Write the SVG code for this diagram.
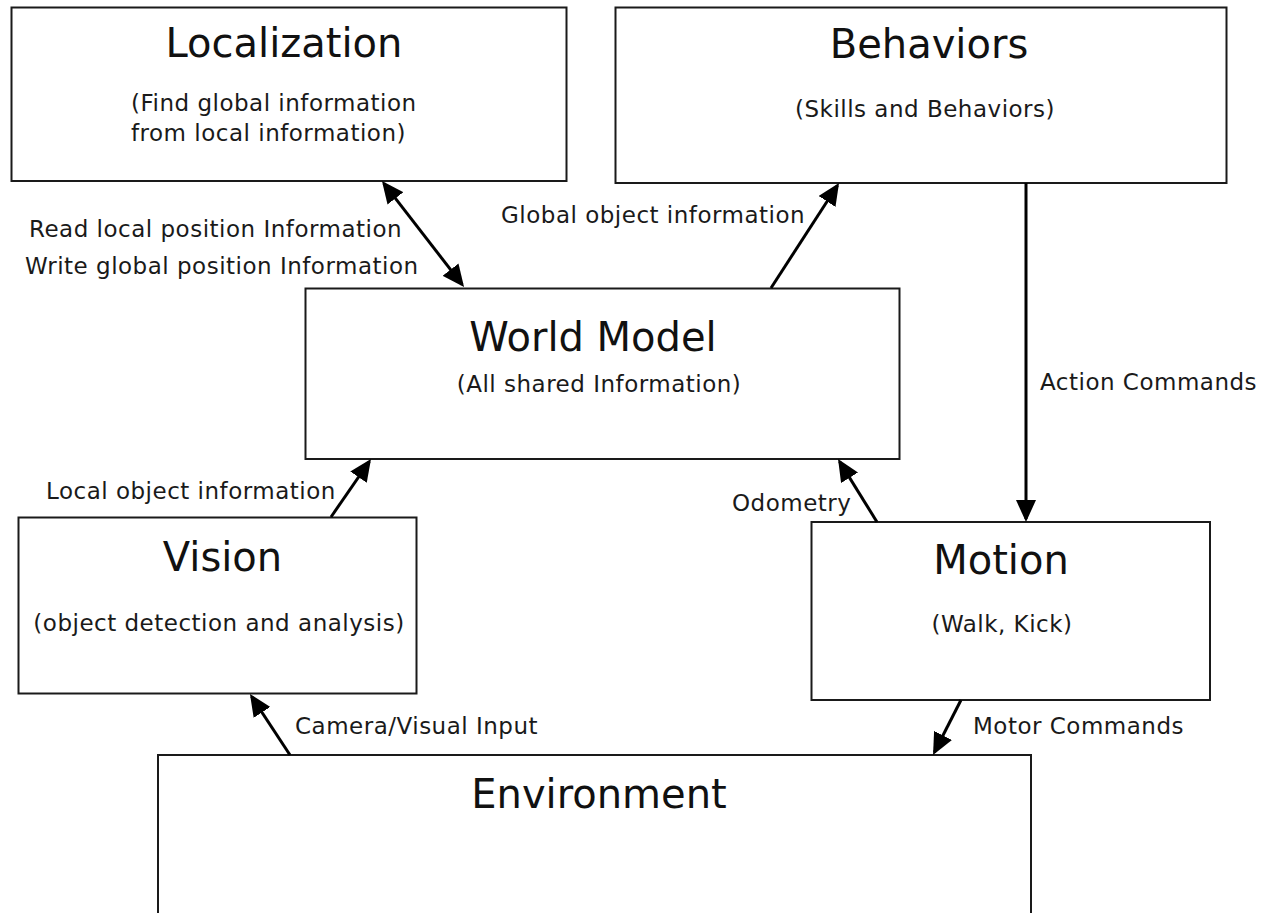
<svg xmlns="http://www.w3.org/2000/svg" width="1270" height="913" viewBox="0 0 1270 913">
<style>
.box{fill:#fff;stroke:#1a1a1a;stroke-width:2}
.title{font-family:"DejaVu Sans",sans-serif;font-size:40px;fill:#111;text-anchor:middle}
.sub{font-family:"DejaVu Sans",sans-serif;font-size:23px;letter-spacing:0.5px;fill:#1a1a1a}
.mid{text-anchor:middle}
.lbl{font-family:"DejaVu Sans",sans-serif;font-size:23px;letter-spacing:0.5px;fill:#1a1a1a}
.conn{stroke:#000;stroke-width:3;fill:none}
</style>
<defs>
<marker id="ah" markerUnits="userSpaceOnUse" markerWidth="22" markerHeight="20" viewBox="0 0 22 20" refX="19" refY="10" orient="auto-start-reverse">
<path d="M0,0 L22,10 L0,20 z" fill="#000"/>
</marker>
</defs>
<rect width="1270" height="913" fill="#fff"/>
<g id="localization">
<rect class="box" x="11.5" y="7.5" width="555" height="173.5"/>
<text class="title" x="284" y="57">Localization</text>
<text class="sub" x="131" y="111">(Find global information</text>
<text class="sub" x="131" y="141">from local information)</text>
</g>
<g id="behaviors">
<rect class="box" x="615.5" y="7.5" width="611" height="175.5"/>
<text class="title" x="929" y="58">Behaviors</text>
<text class="sub mid" x="925" y="117">(Skills and Behaviors)</text>
</g>
<g id="world-model">
<rect class="box" x="305.5" y="288.5" width="594" height="170.5"/>
<text class="title" x="593" y="351">World Model</text>
<text class="sub mid" x="599" y="392">(All shared Information)</text>
</g>
<g id="vision">
<rect class="box" x="18.5" y="517.5" width="398" height="176"/>
<text class="title" x="222.5" y="571">Vision</text>
<text class="sub mid" x="219" y="631">(object detection and analysis)</text>
</g>
<g id="motion">
<rect class="box" x="811.5" y="522" width="398.5" height="178"/>
<text class="title" x="1001" y="574">Motion</text>
<text class="sub mid" x="1002" y="632">(Walk, Kick)</text>
</g>
<g id="environment">
<rect class="box" x="158" y="755" width="873" height="200"/>
<text class="title" x="599" y="808">Environment</text>
</g>
<g id="connectors">
<line class="conn" x1="383.8" y1="183.4" x2="462.2" y2="284.6" marker-start="url(#ah)" marker-end="url(#ah)"/>
<line class="conn" x1="771" y1="288" x2="837.4" y2="185.5" marker-end="url(#ah)"/>
<line class="conn" x1="1026" y1="183" x2="1026" y2="519" marker-end="url(#ah)"/>
<line class="conn" x1="331" y1="517" x2="369.3" y2="461.5" marker-end="url(#ah)"/>
<line class="conn" x1="877" y1="522" x2="839.6" y2="461.6" marker-end="url(#ah)"/>
<line class="conn" x1="290" y1="755" x2="251.6" y2="696.5" marker-end="url(#ah)"/>
<line class="conn" x1="961" y1="700" x2="934.4" y2="752.3" marker-end="url(#ah)"/>
<text class="lbl" x="29" y="237">Read local position Information</text>
<text class="lbl" x="25" y="274">Write global position Information</text>
<text class="lbl" x="501" y="223">Global object information</text>
<text class="lbl" x="1040" y="390">Action Commands</text>
<text class="lbl" x="46" y="499">Local object information</text>
<text class="lbl" x="732" y="511">Odometry</text>
<text class="lbl" x="295" y="734">Camera/Visual Input</text>
<text class="lbl" x="973" y="734">Motor Commands</text>
</g>
</svg>
